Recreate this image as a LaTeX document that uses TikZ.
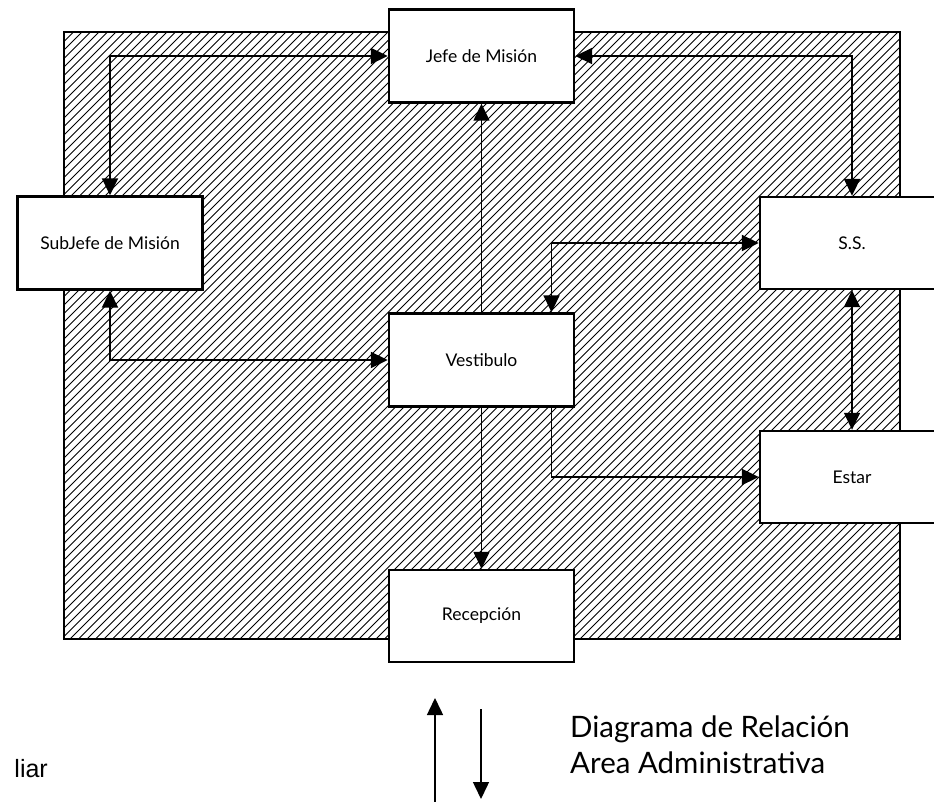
\documentclass[tikz,border=0pt]{standalone}
\usepackage{fontspec}
\newfontfamily\labelfont{Lato}
\newfontfamily\notefont{Liberation Sans}
\usetikzlibrary{arrows.meta,calc}

\tikzset{
  room/.style={draw=black, line width=2.4pt, fill=white,
    minimum width=185pt, minimum height=93pt, inner sep=0pt,
    font=\labelfont\fontsize{17.5}{20}\selectfont},
  link/.style={line width=1.9pt, black},
  tip/.style={-{Triangle[length=17pt,width=16pt]}},
  twotips/.style={{Triangle[length=17pt,width=16pt]}-{Triangle[length=17pt,width=16pt]}},
  hatch/.style={line width=1pt, black},
  legendtext/.style={font=\labelfont\fontsize{29.5}{34}\selectfont, anchor=base west, inner sep=0pt}
}

\begin{document}
\begin{tikzpicture}[x=1pt, y=-1pt]
  \useasboundingbox (0,0) rectangle (934,802);

  % hatched zone of the administrative area
  \begin{scope}
    \clip (64,32) rectangle (900,639);
    \foreach \s in {-560,-551.5,...,905}
      \draw[hatch] (\s,640) -- ++(610,-610);
  \end{scope}
  \draw[line width=2pt] (64,32) rectangle (900,639);

  % rooms
  \node[room] (jefe)    at (481.5,56)  {Jefe de Misión};
  \node[room] (subjefe) at (110,243)   {SubJefe de Misión};
  \node[room] (vest)    at (481.5,360) {Vestibulo};
  \node[room, minimum width=184pt, minimum height=92pt] (ss) at (852,243) {S.S.};
  \node[room, minimum width=184pt, minimum height=92pt] (estar) at (852,477) {Estar};
  \node[room, minimum height=92pt] (recep) at (481.5,616) {Recepción};

  % relations
  \draw[link, twotips] (jefe.west) -| (subjefe.north);
  \draw[link, twotips] (jefe.east) -| (ss.north);
  \draw[link, tip, line width=1.5pt] (vest.north) -- (jefe.south);
  \draw[link, tip, line width=1.5pt] (vest.south) -- (recep.north);
  \draw[link, twotips] (subjefe.south) |- (vest.west);
  \draw[link, twotips] (ss.west) -| ($(vest.north)+(70,0)$);
  \draw[link, tip] ($(vest.south)+(70,0)$) |- (estar.west);
  \draw[link, twotips, line width=1.5pt] (ss.south) -- (estar.north);

  % legend
  \coordinate (upfoot) at (435,802);
  \coordinate (uphead) at (435,698);
  \coordinate (downfoot) at (481,709);
  \coordinate (downhead) at (481,799);
  \draw[link, tip, line width=1.5pt] (upfoot) -- (uphead);
  \draw[link, tip, line width=1.5pt] (downfoot) -- (downhead);

  \node[legendtext] (title1) at (570,737) {Diagrama de Relación};
  \node[legendtext] (title2) at (570,773) {Area Administrativa};
  \node[font=\notefont\fontsize{25}{28}\selectfont, anchor=base east, inner sep=0pt] (note) at (48,777) {liar};
\end{tikzpicture}
\end{document}
